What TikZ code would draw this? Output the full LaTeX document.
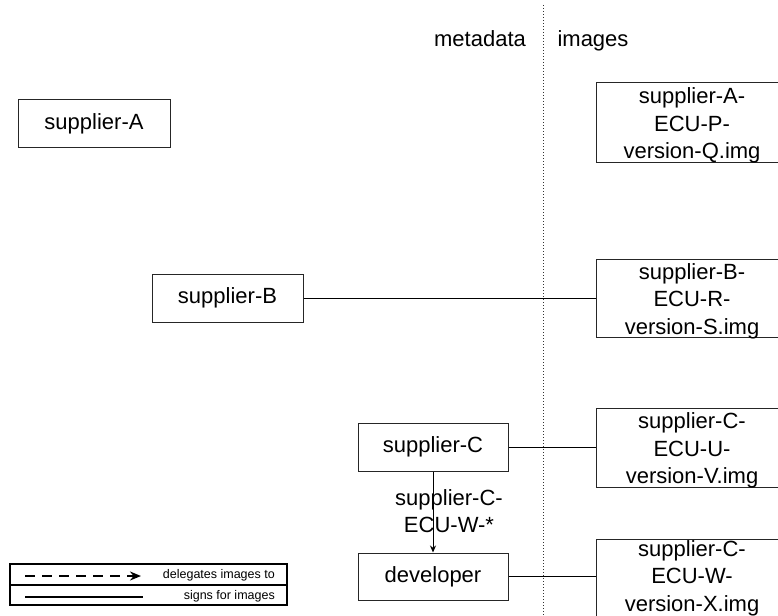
\documentclass[tikz,border=0pt]{standalone}
\usepackage{fontspec}
\setmainfont{Liberation Sans}
\usetikzlibrary{arrows.meta}
\tikzset{
  box/.style={draw=black!85, line width=1pt, inner sep=0pt, align=center,
    font=\fontsize{22}{27}\selectfont},
  imgbox/.style={draw=black!85, line width=1pt, inner sep=0pt, minimum width=192pt},
  imgtext/.style={inner sep=0pt, align=center, font=\fontsize{22}{27.5}\selectfont},
  conn/.style={draw=black, line width=1pt},
  lbl/.style={inner sep=0pt, font=\fontsize{22}{27}\selectfont, align=center},
  legtext/.style={inner sep=0pt, anchor=east, font=\fontsize{12.5}{14}\selectfont},
  legbox/.style={draw=black, line width=1.2pt, minimum width=277pt, inner sep=0pt},
}
\begin{document}
\begin{tikzpicture}[x=1pt,y=-1pt]
\useasboundingbox (0,0) rectangle (778,615);
\begin{scope}
\clip (0,0) rectangle (778,615);
% divider
\coordinate (dtop) at (543,5);
\coordinate (dbot) at (543,615);
\draw[black!80, line width=1pt, dash pattern=on 1pt off 2pt] (dtop) -- (dbot);
\node[lbl, anchor=base] (meta) at (480,47) {metadata};
\node[lbl, anchor=base] (imgs) at (593,47) {images};

% metadata boxes
\node[box, minimum width=152pt, minimum height=47pt] (supA) at (94,123.5) {supplier-A};
\node[box, minimum width=151pt, minimum height=48pt] (supB) at (227.5,298) {supplier-B};
\node[box, minimum width=150pt, minimum height=48pt] (supC) at (433,447) {supplier-C};
\node[box, minimum width=150pt, minimum height=47pt] (dev) at (433,576.5) {developer};

% image boxes
\node[imgbox, minimum height=79pt] (imgA) at (692,122.5) {};
\node[imgtext] (imgAt) at ([yshift=-3pt]imgA.center) {supplier-A-\\ECU-P-\\version-Q.img};
\node[imgbox, minimum height=78pt] (imgB) at (692,298) {};
\node[imgtext] (imgBt) at ([yshift=-3pt]imgB.center) {supplier-B-\\ECU-R-\\version-S.img};
\node[imgbox, minimum height=79pt] (imgCU) at (692,447.5) {};
\node[imgtext] (imgCUt) at ([yshift=-3pt]imgCU.center) {supplier-C-\\ECU-U-\\version-V.img};
\node[imgbox, minimum height=79pt] (imgCW) at (692,578.5) {};
\node[imgtext] (imgCWt) at ([yshift=0.5pt]imgCW.center) {supplier-C-\\ECU-W-\\version-X.img};

% connectors
\draw[conn] (supB.east) -- (supB.east -| imgB.west);
\draw[conn] (supC.east) -- (supC.east -| imgCU.west);
\draw[conn] (dev.east) -- (dev.east -| imgCW.west);
\draw[conn, -{Stealth[length=7pt,width=6pt]}] (supC.south) -- (dev.north);
\node[lbl] (elbl) at (449,511.5) {supplier-C-\\ECU-W-*};

% legend
\node[legbox, minimum height=21pt] (legtop) at (148.5,574.5) {};
\node[legbox, minimum height=20pt] (legbot) at (148.5,595) {};
\coordinate (d1) at (25,576);
\coordinate (d2) at (141,576);
\draw[line width=2pt, dash pattern=on 10pt off 7pt, -{Stealth[length=11pt,width=9pt]}] (d1) -- (d2);
\node[legtext] (lt1) at (275,575.5) {delegates images to};
\coordinate (s1) at (25,596.5);
\coordinate (s2) at (143,596.5);
\draw[line width=2pt] (s1) -- (s2);
\node[legtext] (lt2) at (275,596) {signs for images};
\end{scope}
\end{tikzpicture}
\end{document}
